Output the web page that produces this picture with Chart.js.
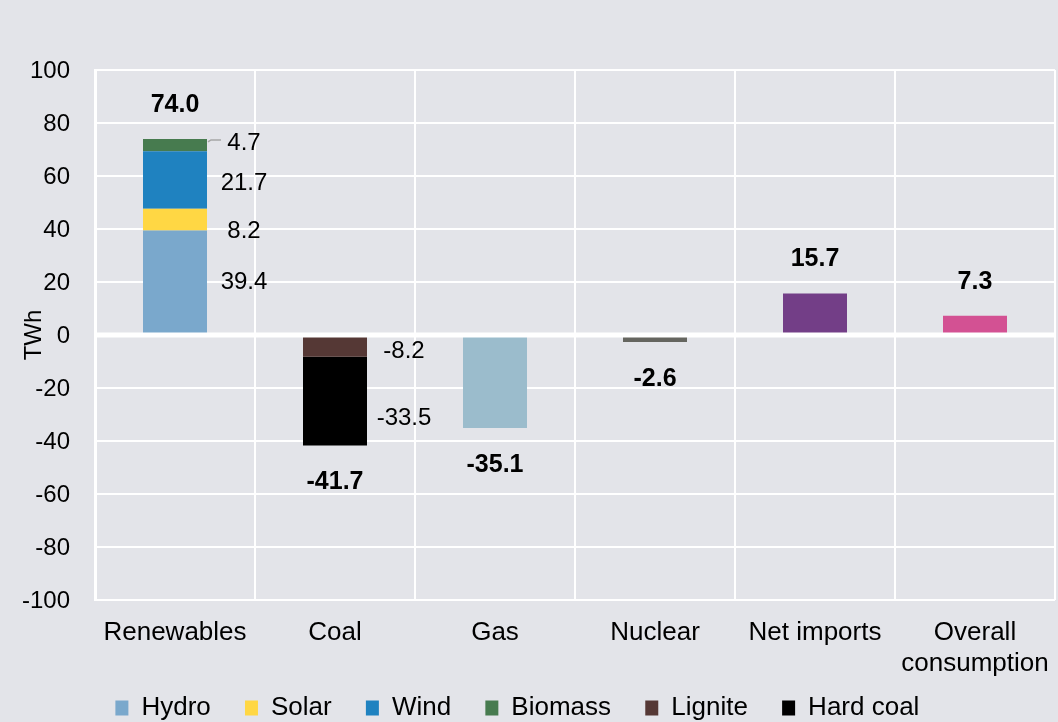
<!DOCTYPE html>
<html>
<head>
<meta charset="utf-8">
<script src="https://cdn.jsdelivr.net/npm/chart.js@4.4.1/dist/chart.umd.min.js"></script>
<style>
    html, body { margin: 0; padding: 0; background: #e3e4e9; }
    #wrap { width: 1058px; height: 722px; }
</style>
</head>
<body>
<div id="wrap"><canvas id="myChart"></canvas></div>
<script>
// categories and values (TWh)
var categories = ['Renewables', 'Coal', 'Gas', 'Nuclear', 'Net imports', ['Overall', 'consumption']];
var hydro    = [39.4, null, null, null, null, null];
var solar    = [8.2, null, null, null, null, null];
var wind     = [21.7, null, null, null, null, null];
var biomass  = [4.7, null, null, null, null, null];
var lignite  = [null, -8.2, null, null, null, null];
var hardCoal = [null, -33.5, null, null, null, null];
var others   = [null, null, -35.1, -2.6, 15.7, 7.3];
var totals   = [74.0, -41.7, -35.1, -2.6, 15.7, 7.3];
var yTicks   = { min: -100, max: 100, step: 20 };

var FONT = '"Liberation Sans", Arial, sans-serif';

// small vertical nudges for the segment labels (Excel moved some to avoid overlap)
var labelNudge = { 'Hydro': 0, 'Solar': 12, 'Wind': 3, 'Biomass': -2, 'Lignite': 5, 'Hard coal': 17 };

var valueLabels = {
    id: 'valueLabels',
    afterDatasetsDraw: function (chart) {
        var ctx = chart.ctx;
        var area = chart.chartArea;
        var y = chart.scales.y, x = chart.scales.x;

        // thick white zero line over the bars
        var y0 = y.getPixelForValue(0);
        ctx.save();
        ctx.strokeStyle = '#ffffff';
        ctx.lineWidth = 5;
        ctx.beginPath();
        ctx.moveTo(area.left, y0);
        ctx.lineTo(area.right, y0);
        ctx.stroke();

        ctx.fillStyle = '#000';
        ctx.textAlign = 'center';
        ctx.textBaseline = 'middle';

        // segment labels to the right of the stacked bars
        ctx.font = '24px ' + FONT;
        chart.data.datasets.forEach(function (ds, i) {
            if (ds.label === 'Other') return;
            var meta = chart.getDatasetMeta(i);
            meta.data.forEach(function (bar, j) {
                var v = ds.data[j];
                if (v === null) return;
                var right = bar.x + bar.width / 2;
                var cy = (bar.y + bar.base) / 2 + (labelNudge[ds.label] || 0);
                ctx.fillText(v.toFixed(1), right + 37, cy);
                if (ds.label === 'Biomass') {
                    ctx.strokeStyle = '#a6a6a6';
                    ctx.lineWidth = 1.5;
                    ctx.beginPath();
                    ctx.moveTo(right + 1, bar.y + 3);
                    ctx.lineTo(right + 4, bar.y + 1);
                    ctx.lineTo(right + 14, bar.y + 1);
                    ctx.stroke();
                }
            });
        });

        // bold totals above / below each bar
        ctx.font = 'bold 25px ' + FONT;
        totals.forEach(function (t, j) {
            var px = x.getPixelForValue(j);
            var py = y.getPixelForValue(t) + (t > 0 ? -34 : 37);
            ctx.fillText(t.toFixed(1), px, py);
        });
        ctx.restore();
    }
};

var ctx = document.getElementById('myChart').getContext('2d');

window.myChart = new Chart(ctx, {
    type: 'bar',
    data: {
        labels: categories,
        datasets: [
            { label: 'Hydro', data: hydro, backgroundColor: '#7aa8cc' },
            { label: 'Solar', data: solar, backgroundColor: '#ffd744' },
            { label: 'Wind', data: wind, backgroundColor: '#1f82c0' },
            { label: 'Biomass', data: biomass, backgroundColor: '#477b4f' },
            { label: 'Lignite', data: lignite, backgroundColor: '#553835' },
            { label: 'Hard coal', data: hardCoal, backgroundColor: '#000000' },
            { label: 'Other', data: others, backgroundColor: ['#000', '#000', '#9bbccc', '#65655f', '#733e87', '#d35193'] }
        ]
    },
    options: {
        responsive: true,
        maintainAspectRatio: false,
        animation: false,
        layout: { padding: { top: 70, right: 3, left: 0, bottom: 0 } },
        datasets: { bar: { barPercentage: 0.4, categoryPercentage: 1 } },
        plugins: {
            tooltip: { enabled: false },
            legend: {
                position: 'bottom',
                maxHeight: 41,
                labels: {
                    filter: function (item) { return item.text.indexOf('Other') !== 0; },
                    // extra spaces widen the gaps between items without a taller legend
                    generateLabels: function (chart) {
                        var items = Chart.defaults.plugins.legend.labels.generateLabels(chart);
                        items.forEach(function (it) { it.text = it.text + '\u2002 '; });
                        return items;
                    },
                    boxWidth: 13,
                    boxHeight: 15,
                    padding: 14,
                    color: '#000',
                    font: { family: FONT, size: 26 }
                }
            }
        },
        scales: {
            x: {
                stacked: true,
                grid: { color: '#ffffff', lineWidth: 2, drawTicks: false, offset: true },
                border: { display: false },
                ticks: { color: '#000', padding: 17, maxRotation: 0, font: { family: FONT, size: 26 } },
                afterFit: function (scale) {
                    scale.height = 81;
                    scale.paddingLeft = 0;
                    scale.paddingRight = 0;
                }
            },
            y: {
                stacked: true,
                min: yTicks.min,
                max: yTicks.max,
                grid: { color: '#ffffff', lineWidth: 2, drawTicks: false },
                border: { display: true, color: '#ffffff', width: 3 },
                ticks: { stepSize: yTicks.step, color: '#000', padding: 25, labelOffset: 1, font: { family: FONT, size: 24 } },
                title: { display: true, text: 'TWh', color: '#000', padding: { top: 20, bottom: 0 }, font: { family: FONT, size: 24 } },
                afterFit: function (scale) { scale.width = 95; }
            }
        }
    },
    plugins: [valueLabels]
});
</script>
</body>
</html>
